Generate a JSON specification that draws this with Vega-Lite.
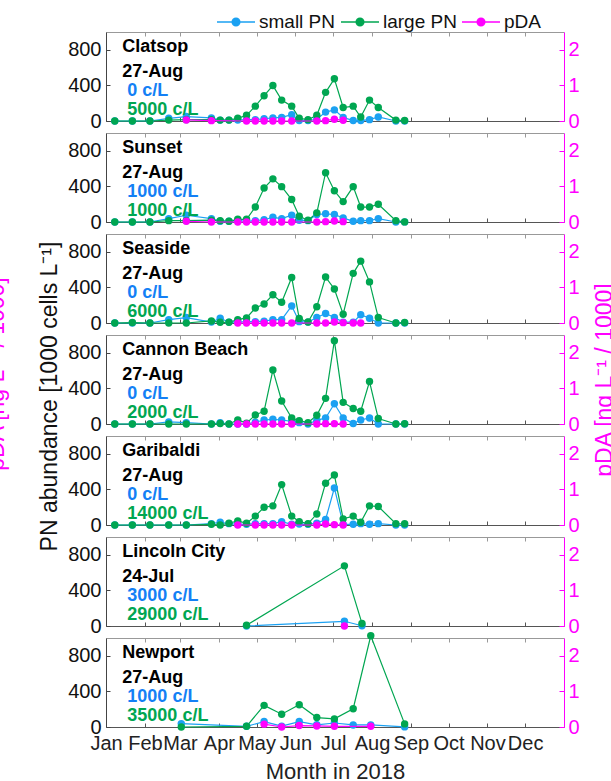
{
"$schema": "https://vega.github.io/schema/vega-lite/v6.json",
"padding": {"left": -15, "top": 2, "right": 0, "bottom": 0},
"background": "white",
"config": {"font": "Liberation Sans", "view": {"stroke": null}, "axis": {"grid": false, "labelFont": "Liberation Sans", "titleFont": "Liberation Sans"}},
"datasets": {
"pn": [
{"site":"Clatsop","date":"2018-01-08","small PN":0,"large PN":0},
{"site":"Clatsop","date":"2018-01-22","small PN":0,"large PN":0},
{"site":"Clatsop","date":"2018-02-05","small PN":0,"large PN":0},
{"site":"Clatsop","date":"2018-02-20","small PN":30,"large PN":10},
{"site":"Clatsop","date":"2018-03-06","small PN":50,"large PN":15},
{"site":"Clatsop","date":"2018-03-26","small PN":35,"large PN":15},
{"site":"Clatsop","date":"2018-04-02","small PN":10,"large PN":10},
{"site":"Clatsop","date":"2018-04-09","small PN":10,"large PN":10},
{"site":"Clatsop","date":"2018-04-16","small PN":10,"large PN":30},
{"site":"Clatsop","date":"2018-04-23","small PN":15,"large PN":64},
{"site":"Clatsop","date":"2018-04-30","small PN":15,"large PN":167},
{"site":"Clatsop","date":"2018-05-07","small PN":25,"large PN":284},
{"site":"Clatsop","date":"2018-05-14","small PN":35,"large PN":398},
{"site":"Clatsop","date":"2018-05-21","small PN":40,"large PN":235},
{"site":"Clatsop","date":"2018-05-29","small PN":70,"large PN":167},
{"site":"Clatsop","date":"2018-06-04","small PN":5,"large PN":30},
{"site":"Clatsop","date":"2018-06-11","small PN":5,"large PN":15},
{"site":"Clatsop","date":"2018-06-18","small PN":20,"large PN":64},
{"site":"Clatsop","date":"2018-06-25","small PN":100,"large PN":322},
{"site":"Clatsop","date":"2018-07-02","small PN":125,"large PN":474},
{"site":"Clatsop","date":"2018-07-09","small PN":40,"large PN":152},
{"site":"Clatsop","date":"2018-07-17","small PN":5,"large PN":167},
{"site":"Clatsop","date":"2018-07-23","small PN":5,"large PN":45},
{"site":"Clatsop","date":"2018-07-30","small PN":15,"large PN":235},
{"site":"Clatsop","date":"2018-08-06","small PN":45,"large PN":152},
{"site":"Clatsop","date":"2018-08-20","small PN":0,"large PN":10},
{"site":"Clatsop","date":"2018-08-27","small PN":0,"large PN":5},
{"site":"Sunset","date":"2018-01-08","small PN":0,"large PN":0},
{"site":"Sunset","date":"2018-01-22","small PN":0,"large PN":0},
{"site":"Sunset","date":"2018-02-05","small PN":0,"large PN":0},
{"site":"Sunset","date":"2018-02-20","small PN":38,"large PN":15},
{"site":"Sunset","date":"2018-03-06","small PN":76,"large PN":15},
{"site":"Sunset","date":"2018-03-26","small PN":38,"large PN":20},
{"site":"Sunset","date":"2018-04-02","small PN":8,"large PN":15},
{"site":"Sunset","date":"2018-04-09","small PN":8,"large PN":8},
{"site":"Sunset","date":"2018-04-16","small PN":15,"large PN":30},
{"site":"Sunset","date":"2018-04-23","small PN":8,"large PN":30},
{"site":"Sunset","date":"2018-04-30","small PN":15,"large PN":168},
{"site":"Sunset","date":"2018-05-07","small PN":25,"large PN":382},
{"site":"Sunset","date":"2018-05-14","small PN":53,"large PN":485},
{"site":"Sunset","date":"2018-05-21","small PN":38,"large PN":397},
{"site":"Sunset","date":"2018-05-29","small PN":76,"large PN":252},
{"site":"Sunset","date":"2018-06-04","small PN":20,"large PN":65},
{"site":"Sunset","date":"2018-06-11","small PN":15,"large PN":19},
{"site":"Sunset","date":"2018-06-18","small PN":84,"large PN":103},
{"site":"Sunset","date":"2018-06-25","small PN":92,"large PN":554},
{"site":"Sunset","date":"2018-07-02","small PN":84,"large PN":351},
{"site":"Sunset","date":"2018-07-09","small PN":46,"large PN":229},
{"site":"Sunset","date":"2018-07-17","small PN":8,"large PN":397},
{"site":"Sunset","date":"2018-07-23","small PN":15,"large PN":168},
{"site":"Sunset","date":"2018-07-30","small PN":15,"large PN":168},
{"site":"Sunset","date":"2018-08-06","small PN":38,"large PN":199},
{"site":"Sunset","date":"2018-08-20","small PN":0,"large PN":15},
{"site":"Sunset","date":"2018-08-27","small PN":1,"large PN":1},
{"site":"Seaside","date":"2018-01-08","small PN":0,"large PN":0},
{"site":"Seaside","date":"2018-01-22","small PN":0,"large PN":5},
{"site":"Seaside","date":"2018-02-05","small PN":0,"large PN":0},
{"site":"Seaside","date":"2018-02-20","small PN":38,"large PN":0},
{"site":"Seaside","date":"2018-03-06","small PN":61,"large PN":0},
{"site":"Seaside","date":"2018-03-26","small PN":10,"large PN":23},
{"site":"Seaside","date":"2018-04-02","small PN":53,"large PN":8},
{"site":"Seaside","date":"2018-04-09","small PN":10,"large PN":8},
{"site":"Seaside","date":"2018-04-16","small PN":10,"large PN":38},
{"site":"Seaside","date":"2018-04-23","small PN":15,"large PN":57},
{"site":"Seaside","date":"2018-04-30","small PN":15,"large PN":168},
{"site":"Seaside","date":"2018-05-07","small PN":20,"large PN":214},
{"site":"Seaside","date":"2018-05-14","small PN":38,"large PN":317},
{"site":"Seaside","date":"2018-05-21","small PN":38,"large PN":233},
{"site":"Seaside","date":"2018-05-29","small PN":191,"large PN":512},
{"site":"Seaside","date":"2018-06-04","small PN":15,"large PN":50},
{"site":"Seaside","date":"2018-06-11","small PN":10,"large PN":11},
{"site":"Seaside","date":"2018-06-18","small PN":61,"large PN":183},
{"site":"Seaside","date":"2018-06-25","small PN":107,"large PN":516},
{"site":"Seaside","date":"2018-07-02","small PN":61,"large PN":382},
{"site":"Seaside","date":"2018-07-09","small PN":10,"large PN":99},
{"site":"Seaside","date":"2018-07-17","small PN":10,"large PN":558},
{"site":"Seaside","date":"2018-07-23","small PN":92,"large PN":695},
{"site":"Seaside","date":"2018-07-30","small PN":53,"large PN":462},
{"site":"Seaside","date":"2018-08-06","small PN":0,"large PN":61},
{"site":"Seaside","date":"2018-08-20","small PN":0,"large PN":0},
{"site":"Seaside","date":"2018-08-27","small PN":0,"large PN":6},
{"site":"Cannon Beach","date":"2018-01-08","small PN":0,"large PN":0},
{"site":"Cannon Beach","date":"2018-01-22","small PN":0,"large PN":0},
{"site":"Cannon Beach","date":"2018-02-05","small PN":0,"large PN":0},
{"site":"Cannon Beach","date":"2018-02-20","small PN":23,"large PN":0},
{"site":"Cannon Beach","date":"2018-03-06","small PN":15,"large PN":0},
{"site":"Cannon Beach","date":"2018-03-26","small PN":0,"large PN":0},
{"site":"Cannon Beach","date":"2018-04-02","small PN":15,"large PN":5},
{"site":"Cannon Beach","date":"2018-04-09","small PN":0,"large PN":0},
{"site":"Cannon Beach","date":"2018-04-16","small PN":0,"large PN":45},
{"site":"Cannon Beach","date":"2018-04-23","small PN":0,"large PN":10},
{"site":"Cannon Beach","date":"2018-04-30","small PN":20,"large PN":102},
{"site":"Cannon Beach","date":"2018-05-07","small PN":45,"large PN":144},
{"site":"Cannon Beach","date":"2018-05-14","small PN":53,"large PN":606},
{"site":"Cannon Beach","date":"2018-05-21","small PN":45,"large PN":258},
{"site":"Cannon Beach","date":"2018-05-29","small PN":30,"large PN":68},
{"site":"Cannon Beach","date":"2018-06-04","small PN":15,"large PN":38},
{"site":"Cannon Beach","date":"2018-06-11","small PN":0,"large PN":15},
{"site":"Cannon Beach","date":"2018-06-18","small PN":40,"large PN":98},
{"site":"Cannon Beach","date":"2018-06-25","small PN":68,"large PN":288},
{"site":"Cannon Beach","date":"2018-07-02","small PN":227,"large PN":936},
{"site":"Cannon Beach","date":"2018-07-09","small PN":68,"large PN":243},
{"site":"Cannon Beach","date":"2018-07-17","small PN":5,"large PN":174},
{"site":"Cannon Beach","date":"2018-07-23","small PN":45,"large PN":144},
{"site":"Cannon Beach","date":"2018-07-30","small PN":68,"large PN":477},
{"site":"Cannon Beach","date":"2018-08-06","small PN":0,"large PN":61},
{"site":"Cannon Beach","date":"2018-08-20","small PN":0,"large PN":0},
{"site":"Cannon Beach","date":"2018-08-27","small PN":0,"large PN":2},
{"site":"Garibaldi","date":"2018-01-08","small PN":0,"large PN":0},
{"site":"Garibaldi","date":"2018-01-22","small PN":0,"large PN":0},
{"site":"Garibaldi","date":"2018-02-05","small PN":0,"large PN":0},
{"site":"Garibaldi","date":"2018-02-20","small PN":0,"large PN":0},
{"site":"Garibaldi","date":"2018-03-06","small PN":0,"large PN":0},
{"site":"Garibaldi","date":"2018-03-26","small PN":15,"large PN":8},
{"site":"Garibaldi","date":"2018-04-02","small PN":31,"large PN":0},
{"site":"Garibaldi","date":"2018-04-09","small PN":15,"large PN":20},
{"site":"Garibaldi","date":"2018-04-16","small PN":8,"large PN":46},
{"site":"Garibaldi","date":"2018-04-23","small PN":8,"large PN":20},
{"site":"Garibaldi","date":"2018-04-30","small PN":15,"large PN":100},
{"site":"Garibaldi","date":"2018-05-07","small PN":15,"large PN":200},
{"site":"Garibaldi","date":"2018-05-14","small PN":15,"large PN":215},
{"site":"Garibaldi","date":"2018-05-21","small PN":38,"large PN":454},
{"site":"Garibaldi","date":"2018-05-29","small PN":8,"large PN":100},
{"site":"Garibaldi","date":"2018-06-04","small PN":10,"large PN":38},
{"site":"Garibaldi","date":"2018-06-11","small PN":8,"large PN":15},
{"site":"Garibaldi","date":"2018-06-18","small PN":20,"large PN":123},
{"site":"Garibaldi","date":"2018-06-25","small PN":62,"large PN":470},
{"site":"Garibaldi","date":"2018-07-02","small PN":416,"large PN":562},
{"site":"Garibaldi","date":"2018-07-09","small PN":8,"large PN":69},
{"site":"Garibaldi","date":"2018-07-17","small PN":8,"large PN":100},
{"site":"Garibaldi","date":"2018-07-23","small PN":15,"large PN":30},
{"site":"Garibaldi","date":"2018-07-30","small PN":8,"large PN":215},
{"site":"Garibaldi","date":"2018-08-06","small PN":15,"large PN":208},
{"site":"Garibaldi","date":"2018-08-20","small PN":0,"large PN":15},
{"site":"Garibaldi","date":"2018-08-27","small PN":0,"large PN":14},
{"site":"Lincoln City","date":"2018-04-23","small PN":0,"large PN":8},
{"site":"Lincoln City","date":"2018-07-10","small PN":53,"large PN":676},
{"site":"Lincoln City","date":"2018-07-24","small PN":3,"large PN":29},
{"site":"Newport","date":"2018-03-02","small PN":38,"large PN":0},
{"site":"Newport","date":"2018-04-23","small PN":8,"large PN":8},
{"site":"Newport","date":"2018-05-07","small PN":61,"large PN":243},
{"site":"Newport","date":"2018-05-21","small PN":10,"large PN":144},
{"site":"Newport","date":"2018-06-04","small PN":61,"large PN":250},
{"site":"Newport","date":"2018-06-18","small PN":25,"large PN":106},
{"site":"Newport","date":"2018-07-02","small PN":45,"large PN":91},
{"site":"Newport","date":"2018-07-17","small PN":23,"large PN":205},
{"site":"Newport","date":"2018-07-31","small PN":23,"large PN":1025},
{"site":"Newport","date":"2018-08-27","small PN":1,"large PN":35}
],
"pda": [
{"site":"Clatsop","date":"2018-03-06","pDA":0.03},
{"site":"Clatsop","date":"2018-03-26","pDA":0.01},
{"site":"Clatsop","date":"2018-04-23","pDA":0},
{"site":"Clatsop","date":"2018-04-30","pDA":0},
{"site":"Clatsop","date":"2018-05-07","pDA":0},
{"site":"Clatsop","date":"2018-05-14","pDA":0},
{"site":"Clatsop","date":"2018-05-21","pDA":0},
{"site":"Clatsop","date":"2018-05-29","pDA":0},
{"site":"Clatsop","date":"2018-06-18","pDA":0},
{"site":"Clatsop","date":"2018-06-25","pDA":0.01},
{"site":"Clatsop","date":"2018-07-02","pDA":0.05},
{"site":"Clatsop","date":"2018-07-09","pDA":0.02},
{"site":"Sunset","date":"2018-03-06","pDA":0.02},
{"site":"Sunset","date":"2018-03-26","pDA":0},
{"site":"Sunset","date":"2018-04-16","pDA":0},
{"site":"Sunset","date":"2018-04-23","pDA":0},
{"site":"Sunset","date":"2018-04-30","pDA":0},
{"site":"Sunset","date":"2018-05-07","pDA":0},
{"site":"Sunset","date":"2018-05-14","pDA":0},
{"site":"Sunset","date":"2018-05-21","pDA":0},
{"site":"Sunset","date":"2018-05-29","pDA":0},
{"site":"Sunset","date":"2018-06-18","pDA":0},
{"site":"Sunset","date":"2018-06-25","pDA":0.01},
{"site":"Sunset","date":"2018-07-02","pDA":0.03},
{"site":"Sunset","date":"2018-07-09","pDA":0.01},
{"site":"Seaside","date":"2018-04-16","pDA":0},
{"site":"Seaside","date":"2018-04-23","pDA":0},
{"site":"Seaside","date":"2018-04-30","pDA":0},
{"site":"Seaside","date":"2018-05-07","pDA":0},
{"site":"Seaside","date":"2018-05-14","pDA":0},
{"site":"Seaside","date":"2018-05-21","pDA":0},
{"site":"Seaside","date":"2018-05-29","pDA":0},
{"site":"Seaside","date":"2018-06-18","pDA":0},
{"site":"Seaside","date":"2018-06-25","pDA":0},
{"site":"Seaside","date":"2018-07-02","pDA":0.03},
{"site":"Seaside","date":"2018-07-09","pDA":0.01},
{"site":"Seaside","date":"2018-07-17","pDA":0},
{"site":"Seaside","date":"2018-07-23","pDA":0},
{"site":"Cannon Beach","date":"2018-04-16","pDA":0},
{"site":"Cannon Beach","date":"2018-04-23","pDA":0},
{"site":"Cannon Beach","date":"2018-04-30","pDA":0},
{"site":"Cannon Beach","date":"2018-05-07","pDA":0},
{"site":"Cannon Beach","date":"2018-05-14","pDA":0},
{"site":"Cannon Beach","date":"2018-05-21","pDA":0},
{"site":"Cannon Beach","date":"2018-05-29","pDA":0},
{"site":"Cannon Beach","date":"2018-06-18","pDA":0},
{"site":"Cannon Beach","date":"2018-06-25","pDA":0.01},
{"site":"Cannon Beach","date":"2018-07-02","pDA":0.01},
{"site":"Cannon Beach","date":"2018-07-09","pDA":0},
{"site":"Garibaldi","date":"2018-04-16","pDA":0},
{"site":"Garibaldi","date":"2018-04-30","pDA":0},
{"site":"Garibaldi","date":"2018-05-07","pDA":0},
{"site":"Garibaldi","date":"2018-05-14","pDA":0},
{"site":"Garibaldi","date":"2018-05-21","pDA":0},
{"site":"Garibaldi","date":"2018-05-29","pDA":0},
{"site":"Garibaldi","date":"2018-06-18","pDA":0},
{"site":"Garibaldi","date":"2018-06-25","pDA":0.03},
{"site":"Garibaldi","date":"2018-07-02","pDA":0.01},
{"site":"Garibaldi","date":"2018-07-09","pDA":0},
{"site":"Lincoln City","date":"2018-07-10","pDA":0},
{"site":"Newport","date":"2018-05-07","pDA":0.08},
{"site":"Newport","date":"2018-05-21","pDA":0},
{"site":"Newport","date":"2018-06-04","pDA":0.04},
{"site":"Newport","date":"2018-06-18","pDA":0.03},
{"site":"Newport","date":"2018-07-02","pDA":0.02},
{"site":"Newport","date":"2018-07-31","pDA":0.02}
],
"labels": [
{"site":"Clatsop","when":"27-Aug","small":"0 c/L","large":"5000 c/L"},
{"site":"Sunset","when":"27-Aug","small":"1000 c/L","large":"1000 c/L"},
{"site":"Seaside","when":"27-Aug","small":"0 c/L","large":"6000 c/L"},
{"site":"Cannon Beach","when":"27-Aug","small":"0 c/L","large":"2000 c/L"},
{"site":"Garibaldi","when":"27-Aug","small":"0 c/L","large":"14000 c/L"},
{"site":"Lincoln City","when":"24-Jul","small":"3000 c/L","large":"29000 c/L"},
{"site":"Newport","when":"27-Aug","small":"1000 c/L","large":"35000 c/L"}
],
"ghost": [
{"site":"Cannon Beach","text":"pDA [ng L⁻¹ / 1000]"}
]
},
"spacing": 12,
"bounds": "flush",
"vconcat": [
{"width":458,"height":89,"resolve":{"scale":{"y":"independent"},"axis":{"x":"independent","y":"independent"}},
"layer":[
{"layer":[
{"data":{"name":"pn"},"transform":[{"filter":"datum.site==='Clatsop'"},{"fold":["small PN","large PN"],"as":["series","value"]}],
"mark":{"type":"line","strokeWidth":1.2,"clip":false},
"encoding":{"x":{"field":"date","type":"temporal","scale":{"type":"utc","domain":[1514764800000,1546300800000]},"axis":{"title":null,"labels":false,"values":[1514764800000,1516060800000,1517443200000,1518739200000,1519862400000,1521158400000,1522540800000,1523836800000,1525132800000,1526428800000,1527811200000,1529107200000,1530403200000,1531699200000,1533081600000,1534377600000,1535760000000,1537056000000,1538352000000,1539648000000,1541030400000,1542326400000,1543622400000,1544918400000],"tickSize":-4,"tickColor":"#555","domainColor":"#555"}},
"y":{"field":"value","type":"quantitative","scale":{"domain":[0,1000],"nice":false},"axis":{"title":null,"values":[0,400,800],"labelFontSize":20,"labelColor":"#111","tickSize":-4,"tickColor":"#444","domainColor":"#444","labelPadding":9}},
"color":{"field":"series","type":"nominal","scale":{"domain":["small PN","large PN","pDA"],"range":["#1ba1f2","#00a651","#ff00ff"]},"legend":{"title":null,"orient":"none","legendX":110,"legendY":-30,"direction":"horizontal","labelFontSize":19,"labelColor":"#111","symbolSize":1444,"symbolType":"M-1,0L1,0M-0.2,0A0.2,0.2,0,1,0,0.2,0A0.2,0.2,0,1,0,-0.2,0Z","symbolStrokeWidth":1.5,"labelOffset":3,"columnPadding":2,"padding":0,"encode":{"symbols":{"update":{"fill":{"scale":"color","field":"value"},"stroke":{"scale":"color","field":"value"},"opacity":{"value":1}}}}}}}},
{"data":{"name":"pn"},"transform":[{"filter":"datum.site==='Clatsop'"},{"fold":["small PN","large PN"],"as":["series","value"]}],
"mark":{"type":"point","filled":true,"size":55,"opacity":1,"clip":false},
"encoding":{"x":{"field":"date","type":"temporal"},"y":{"field":"value","type":"quantitative"},"color":{"field":"series","type":"nominal"}}},
{"data":{"name":"labels"},"transform":[{"filter":"datum.site==='Clatsop'"}],"mark":{"type":"text","align":"left","baseline":"middle","fontSize":18,"fontWeight":"bold","color":"#000"},
"encoding":{"x":{"datum":1515888000000,"type":"temporal"},"y":{"datum":837,"type":"quantitative"},"text":{"field":"site"}}},
{"data":{"name":"labels"},"transform":[{"filter":"datum.site==='Clatsop'"}],"mark":{"type":"text","align":"left","baseline":"middle","fontSize":18,"fontWeight":"bold","color":"#000"},
"encoding":{"x":{"datum":1515888000000,"type":"temporal"},"y":{"datum":556,"type":"quantitative"},"text":{"field":"when"}}},
{"data":{"name":"labels"},"transform":[{"filter":"datum.site==='Clatsop'"}],"mark":{"type":"text","align":"left","baseline":"middle","fontSize":18,"fontWeight":"bold","color":"#1380f5"},
"encoding":{"x":{"datum":1516233600000,"type":"temporal"},"y":{"datum":342,"type":"quantitative"},"text":{"field":"small"}}},
{"data":{"name":"labels"},"transform":[{"filter":"datum.site==='Clatsop'"}],"mark":{"type":"text","align":"left","baseline":"middle","fontSize":18,"fontWeight":"bold","color":"#00a651"},
"encoding":{"x":{"datum":1516233600000,"type":"temporal"},"y":{"datum":129,"type":"quantitative"},"text":{"field":"large"}}}
]},
{"layer":[
{"data":{"name":"pda"},"transform":[{"filter":"datum.site==='Clatsop'"},{"fold":["pDA"],"as":["series","value"]}],
"mark":{"type":"line","strokeWidth":1.2},
"encoding":{"x":{"field":"date","type":"temporal","scale":{"type":"utc","domain":[1514764800000,1546300800000]},"axis":{"orient":"top","title":null,"labels":false,"values":[1514764800000,1516060800000,1517443200000,1518739200000,1519862400000,1521158400000,1522540800000,1523836800000,1525132800000,1526428800000,1527811200000,1529107200000,1530403200000,1531699200000,1533081600000,1534377600000,1535760000000,1537056000000,1538352000000,1539648000000,1541030400000,1542326400000,1543622400000,1544918400000],"tickSize":-4,"tickColor":"#999","domainColor":"#999"}},
"y":{"field":"value","type":"quantitative","scale":{"domain":[0,2.5],"nice":false},"axis":{"orient":"right","title":null,"values":[0,1,2],"labelFontSize":20,"labelColor":"#ff00ff","tickColor":"#ff00ff","domainColor":"#ff00ff","tickSize":-5,"labelPadding":9}},
"color":{"field":"series","type":"nominal"}}},
{"data":{"name":"pda"},"transform":[{"filter":"datum.site==='Clatsop'"},{"fold":["pDA"],"as":["series","value"]}],
"mark":{"type":"point","filled":true,"size":55,"opacity":1},
"encoding":{"x":{"field":"date","type":"temporal"},"y":{"field":"value","type":"quantitative"},"color":{"field":"series","type":"nominal"}}}
]}
]},
{"width":458,"height":89,"resolve":{"scale":{"y":"independent"},"axis":{"x":"independent","y":"independent"}},
"layer":[
{"layer":[
{"data":{"name":"pn"},"transform":[{"filter":"datum.site==='Sunset'"},{"fold":["small PN","large PN"],"as":["series","value"]}],
"mark":{"type":"line","strokeWidth":1.2,"clip":false},
"encoding":{"x":{"field":"date","type":"temporal","scale":{"type":"utc","domain":[1514764800000,1546300800000]},"axis":{"title":null,"labels":false,"values":[1514764800000,1516060800000,1517443200000,1518739200000,1519862400000,1521158400000,1522540800000,1523836800000,1525132800000,1526428800000,1527811200000,1529107200000,1530403200000,1531699200000,1533081600000,1534377600000,1535760000000,1537056000000,1538352000000,1539648000000,1541030400000,1542326400000,1543622400000,1544918400000],"tickSize":-4,"tickColor":"#555","domainColor":"#555"}},
"y":{"field":"value","type":"quantitative","scale":{"domain":[0,1000],"nice":false},"axis":{"title":null,"values":[0,400,800],"labelFontSize":20,"labelColor":"#111","tickSize":-4,"tickColor":"#444","domainColor":"#444","labelPadding":9}},
"color":{"field":"series","type":"nominal"}}},
{"data":{"name":"pn"},"transform":[{"filter":"datum.site==='Sunset'"},{"fold":["small PN","large PN"],"as":["series","value"]}],
"mark":{"type":"point","filled":true,"size":55,"opacity":1,"clip":false},
"encoding":{"x":{"field":"date","type":"temporal"},"y":{"field":"value","type":"quantitative"},"color":{"field":"series","type":"nominal"}}},
{"data":{"name":"labels"},"transform":[{"filter":"datum.site==='Sunset'"}],"mark":{"type":"text","align":"left","baseline":"middle","fontSize":18,"fontWeight":"bold","color":"#000"},
"encoding":{"x":{"datum":1515888000000,"type":"temporal"},"y":{"datum":837,"type":"quantitative"},"text":{"field":"site"}}},
{"data":{"name":"labels"},"transform":[{"filter":"datum.site==='Sunset'"}],"mark":{"type":"text","align":"left","baseline":"middle","fontSize":18,"fontWeight":"bold","color":"#000"},
"encoding":{"x":{"datum":1515888000000,"type":"temporal"},"y":{"datum":556,"type":"quantitative"},"text":{"field":"when"}}},
{"data":{"name":"labels"},"transform":[{"filter":"datum.site==='Sunset'"}],"mark":{"type":"text","align":"left","baseline":"middle","fontSize":18,"fontWeight":"bold","color":"#1380f5"},
"encoding":{"x":{"datum":1516233600000,"type":"temporal"},"y":{"datum":342,"type":"quantitative"},"text":{"field":"small"}}},
{"data":{"name":"labels"},"transform":[{"filter":"datum.site==='Sunset'"}],"mark":{"type":"text","align":"left","baseline":"middle","fontSize":18,"fontWeight":"bold","color":"#00a651"},
"encoding":{"x":{"datum":1516233600000,"type":"temporal"},"y":{"datum":129,"type":"quantitative"},"text":{"field":"large"}}}
]},
{"layer":[
{"data":{"name":"pda"},"transform":[{"filter":"datum.site==='Sunset'"},{"fold":["pDA"],"as":["series","value"]}],
"mark":{"type":"line","strokeWidth":1.2},
"encoding":{"x":{"field":"date","type":"temporal","scale":{"type":"utc","domain":[1514764800000,1546300800000]},"axis":{"orient":"top","title":null,"labels":false,"values":[1514764800000,1516060800000,1517443200000,1518739200000,1519862400000,1521158400000,1522540800000,1523836800000,1525132800000,1526428800000,1527811200000,1529107200000,1530403200000,1531699200000,1533081600000,1534377600000,1535760000000,1537056000000,1538352000000,1539648000000,1541030400000,1542326400000,1543622400000,1544918400000],"tickSize":-4,"tickColor":"#999","domainColor":"#999"}},
"y":{"field":"value","type":"quantitative","scale":{"domain":[0,2.5],"nice":false},"axis":{"orient":"right","title":null,"values":[0,1,2],"labelFontSize":20,"labelColor":"#ff00ff","tickColor":"#ff00ff","domainColor":"#ff00ff","tickSize":-5,"labelPadding":9}},
"color":{"field":"series","type":"nominal"}}},
{"data":{"name":"pda"},"transform":[{"filter":"datum.site==='Sunset'"},{"fold":["pDA"],"as":["series","value"]}],
"mark":{"type":"point","filled":true,"size":55,"opacity":1},
"encoding":{"x":{"field":"date","type":"temporal"},"y":{"field":"value","type":"quantitative"},"color":{"field":"series","type":"nominal"}}}
]}
]},
{"width":458,"height":89,"resolve":{"scale":{"y":"independent"},"axis":{"x":"independent","y":"independent"}},
"layer":[
{"layer":[
{"data":{"name":"pn"},"transform":[{"filter":"datum.site==='Seaside'"},{"fold":["small PN","large PN"],"as":["series","value"]}],
"mark":{"type":"line","strokeWidth":1.2,"clip":false},
"encoding":{"x":{"field":"date","type":"temporal","scale":{"type":"utc","domain":[1514764800000,1546300800000]},"axis":{"title":null,"labels":false,"values":[1514764800000,1516060800000,1517443200000,1518739200000,1519862400000,1521158400000,1522540800000,1523836800000,1525132800000,1526428800000,1527811200000,1529107200000,1530403200000,1531699200000,1533081600000,1534377600000,1535760000000,1537056000000,1538352000000,1539648000000,1541030400000,1542326400000,1543622400000,1544918400000],"tickSize":-4,"tickColor":"#555","domainColor":"#555"}},
"y":{"field":"value","type":"quantitative","scale":{"domain":[0,1000],"nice":false},"axis":{"title":null,"values":[0,400,800],"labelFontSize":20,"labelColor":"#111","tickSize":-4,"tickColor":"#444","domainColor":"#444","labelPadding":9}},
"color":{"field":"series","type":"nominal"}}},
{"data":{"name":"pn"},"transform":[{"filter":"datum.site==='Seaside'"},{"fold":["small PN","large PN"],"as":["series","value"]}],
"mark":{"type":"point","filled":true,"size":55,"opacity":1,"clip":false},
"encoding":{"x":{"field":"date","type":"temporal"},"y":{"field":"value","type":"quantitative"},"color":{"field":"series","type":"nominal"}}},
{"data":{"name":"labels"},"transform":[{"filter":"datum.site==='Seaside'"}],"mark":{"type":"text","align":"left","baseline":"middle","fontSize":18,"fontWeight":"bold","color":"#000"},
"encoding":{"x":{"datum":1515888000000,"type":"temporal"},"y":{"datum":837,"type":"quantitative"},"text":{"field":"site"}}},
{"data":{"name":"labels"},"transform":[{"filter":"datum.site==='Seaside'"}],"mark":{"type":"text","align":"left","baseline":"middle","fontSize":18,"fontWeight":"bold","color":"#000"},
"encoding":{"x":{"datum":1515888000000,"type":"temporal"},"y":{"datum":556,"type":"quantitative"},"text":{"field":"when"}}},
{"data":{"name":"labels"},"transform":[{"filter":"datum.site==='Seaside'"}],"mark":{"type":"text","align":"left","baseline":"middle","fontSize":18,"fontWeight":"bold","color":"#1380f5"},
"encoding":{"x":{"datum":1516233600000,"type":"temporal"},"y":{"datum":342,"type":"quantitative"},"text":{"field":"small"}}},
{"data":{"name":"labels"},"transform":[{"filter":"datum.site==='Seaside'"}],"mark":{"type":"text","align":"left","baseline":"middle","fontSize":18,"fontWeight":"bold","color":"#00a651"},
"encoding":{"x":{"datum":1516233600000,"type":"temporal"},"y":{"datum":129,"type":"quantitative"},"text":{"field":"large"}}}
]},
{"layer":[
{"data":{"name":"pda"},"transform":[{"filter":"datum.site==='Seaside'"},{"fold":["pDA"],"as":["series","value"]}],
"mark":{"type":"line","strokeWidth":1.2},
"encoding":{"x":{"field":"date","type":"temporal","scale":{"type":"utc","domain":[1514764800000,1546300800000]},"axis":{"orient":"top","title":null,"labels":false,"values":[1514764800000,1516060800000,1517443200000,1518739200000,1519862400000,1521158400000,1522540800000,1523836800000,1525132800000,1526428800000,1527811200000,1529107200000,1530403200000,1531699200000,1533081600000,1534377600000,1535760000000,1537056000000,1538352000000,1539648000000,1541030400000,1542326400000,1543622400000,1544918400000],"tickSize":-4,"tickColor":"#999","domainColor":"#999"}},
"y":{"field":"value","type":"quantitative","scale":{"domain":[0,2.5],"nice":false},"axis":{"orient":"right","title":null,"values":[0,1,2],"labelFontSize":20,"labelColor":"#ff00ff","tickColor":"#ff00ff","domainColor":"#ff00ff","tickSize":-5,"labelPadding":9}},
"color":{"field":"series","type":"nominal"}}},
{"data":{"name":"pda"},"transform":[{"filter":"datum.site==='Seaside'"},{"fold":["pDA"],"as":["series","value"]}],
"mark":{"type":"point","filled":true,"size":55,"opacity":1},
"encoding":{"x":{"field":"date","type":"temporal"},"y":{"field":"value","type":"quantitative"},"color":{"field":"series","type":"nominal"}}}
]}
]},
{"width":458,"height":89,"resolve":{"scale":{"y":"independent"},"axis":{"x":"independent","y":"independent"}},
"layer":[
{"layer":[
{"data":{"name":"pn"},"transform":[{"filter":"datum.site==='Cannon Beach'"},{"fold":["small PN","large PN"],"as":["series","value"]}],
"mark":{"type":"line","strokeWidth":1.2,"clip":false},
"encoding":{"x":{"field":"date","type":"temporal","scale":{"type":"utc","domain":[1514764800000,1546300800000]},"axis":{"title":null,"labels":false,"values":[1514764800000,1516060800000,1517443200000,1518739200000,1519862400000,1521158400000,1522540800000,1523836800000,1525132800000,1526428800000,1527811200000,1529107200000,1530403200000,1531699200000,1533081600000,1534377600000,1535760000000,1537056000000,1538352000000,1539648000000,1541030400000,1542326400000,1543622400000,1544918400000],"tickSize":-4,"tickColor":"#555","domainColor":"#555"}},
"y":{"field":"value","type":"quantitative","scale":{"domain":[0,1000],"nice":false},"axis":{"title":"PN abundance [1000 cells L⁻¹]","titleFontSize":23,"titleFontWeight":"normal","titleColor":"#111","titlePadding":6,"titleY":61,"values":[0,400,800],"labelFontSize":20,"labelColor":"#111","tickSize":-4,"tickColor":"#444","domainColor":"#444","labelPadding":9}},
"color":{"field":"series","type":"nominal"}}},
{"data":{"name":"pn"},"transform":[{"filter":"datum.site==='Cannon Beach'"},{"fold":["small PN","large PN"],"as":["series","value"]}],
"mark":{"type":"point","filled":true,"size":55,"opacity":1,"clip":false},
"encoding":{"x":{"field":"date","type":"temporal"},"y":{"field":"value","type":"quantitative"},"color":{"field":"series","type":"nominal"}}},
{"data":{"name":"ghost"},"mark":{"type":"text","align":"center","baseline":"middle","angle":270,"fontSize":23,"color":"#ff00ff","clip":false},
"encoding":{"x":{"datum":1507248000000,"type":"temporal"},"y":{"datum":562,"type":"quantitative"},"text":{"field":"text"}}},
{"data":{"name":"labels"},"transform":[{"filter":"datum.site==='Cannon Beach'"}],"mark":{"type":"text","align":"left","baseline":"middle","fontSize":18,"fontWeight":"bold","color":"#000"},
"encoding":{"x":{"datum":1515888000000,"type":"temporal"},"y":{"datum":837,"type":"quantitative"},"text":{"field":"site"}}},
{"data":{"name":"labels"},"transform":[{"filter":"datum.site==='Cannon Beach'"}],"mark":{"type":"text","align":"left","baseline":"middle","fontSize":18,"fontWeight":"bold","color":"#000"},
"encoding":{"x":{"datum":1515888000000,"type":"temporal"},"y":{"datum":556,"type":"quantitative"},"text":{"field":"when"}}},
{"data":{"name":"labels"},"transform":[{"filter":"datum.site==='Cannon Beach'"}],"mark":{"type":"text","align":"left","baseline":"middle","fontSize":18,"fontWeight":"bold","color":"#1380f5"},
"encoding":{"x":{"datum":1516233600000,"type":"temporal"},"y":{"datum":342,"type":"quantitative"},"text":{"field":"small"}}},
{"data":{"name":"labels"},"transform":[{"filter":"datum.site==='Cannon Beach'"}],"mark":{"type":"text","align":"left","baseline":"middle","fontSize":18,"fontWeight":"bold","color":"#00a651"},
"encoding":{"x":{"datum":1516233600000,"type":"temporal"},"y":{"datum":129,"type":"quantitative"},"text":{"field":"large"}}}
]},
{"layer":[
{"data":{"name":"pda"},"transform":[{"filter":"datum.site==='Cannon Beach'"},{"fold":["pDA"],"as":["series","value"]}],
"mark":{"type":"line","strokeWidth":1.2},
"encoding":{"x":{"field":"date","type":"temporal","scale":{"type":"utc","domain":[1514764800000,1546300800000]},"axis":{"orient":"top","title":null,"labels":false,"values":[1514764800000,1516060800000,1517443200000,1518739200000,1519862400000,1521158400000,1522540800000,1523836800000,1525132800000,1526428800000,1527811200000,1529107200000,1530403200000,1531699200000,1533081600000,1534377600000,1535760000000,1537056000000,1538352000000,1539648000000,1541030400000,1542326400000,1543622400000,1544918400000],"tickSize":-4,"tickColor":"#999","domainColor":"#999"}},
"y":{"field":"value","type":"quantitative","scale":{"domain":[0,2.5],"nice":false},"axis":{"orient":"right","title":"pDA [ng L⁻¹ / 1000]","titleAngle":270,"titleBaseline":"top","titleFontSize":23,"titleFontWeight":"normal","titleColor":"#ff00ff","titlePadding":14,"values":[0,1,2],"labelFontSize":20,"labelColor":"#ff00ff","tickColor":"#ff00ff","domainColor":"#ff00ff","tickSize":-5,"labelPadding":9}},
"color":{"field":"series","type":"nominal"}}},
{"data":{"name":"pda"},"transform":[{"filter":"datum.site==='Cannon Beach'"},{"fold":["pDA"],"as":["series","value"]}],
"mark":{"type":"point","filled":true,"size":55,"opacity":1},
"encoding":{"x":{"field":"date","type":"temporal"},"y":{"field":"value","type":"quantitative"},"color":{"field":"series","type":"nominal"}}}
]}
]},
{"width":458,"height":89,"resolve":{"scale":{"y":"independent"},"axis":{"x":"independent","y":"independent"}},
"layer":[
{"layer":[
{"data":{"name":"pn"},"transform":[{"filter":"datum.site==='Garibaldi'"},{"fold":["small PN","large PN"],"as":["series","value"]}],
"mark":{"type":"line","strokeWidth":1.2,"clip":false},
"encoding":{"x":{"field":"date","type":"temporal","scale":{"type":"utc","domain":[1514764800000,1546300800000]},"axis":{"title":null,"labels":false,"values":[1514764800000,1516060800000,1517443200000,1518739200000,1519862400000,1521158400000,1522540800000,1523836800000,1525132800000,1526428800000,1527811200000,1529107200000,1530403200000,1531699200000,1533081600000,1534377600000,1535760000000,1537056000000,1538352000000,1539648000000,1541030400000,1542326400000,1543622400000,1544918400000],"tickSize":-4,"tickColor":"#555","domainColor":"#555"}},
"y":{"field":"value","type":"quantitative","scale":{"domain":[0,1000],"nice":false},"axis":{"title":null,"values":[0,400,800],"labelFontSize":20,"labelColor":"#111","tickSize":-4,"tickColor":"#444","domainColor":"#444","labelPadding":9}},
"color":{"field":"series","type":"nominal"}}},
{"data":{"name":"pn"},"transform":[{"filter":"datum.site==='Garibaldi'"},{"fold":["small PN","large PN"],"as":["series","value"]}],
"mark":{"type":"point","filled":true,"size":55,"opacity":1,"clip":false},
"encoding":{"x":{"field":"date","type":"temporal"},"y":{"field":"value","type":"quantitative"},"color":{"field":"series","type":"nominal"}}},
{"data":{"name":"labels"},"transform":[{"filter":"datum.site==='Garibaldi'"}],"mark":{"type":"text","align":"left","baseline":"middle","fontSize":18,"fontWeight":"bold","color":"#000"},
"encoding":{"x":{"datum":1515888000000,"type":"temporal"},"y":{"datum":837,"type":"quantitative"},"text":{"field":"site"}}},
{"data":{"name":"labels"},"transform":[{"filter":"datum.site==='Garibaldi'"}],"mark":{"type":"text","align":"left","baseline":"middle","fontSize":18,"fontWeight":"bold","color":"#000"},
"encoding":{"x":{"datum":1515888000000,"type":"temporal"},"y":{"datum":556,"type":"quantitative"},"text":{"field":"when"}}},
{"data":{"name":"labels"},"transform":[{"filter":"datum.site==='Garibaldi'"}],"mark":{"type":"text","align":"left","baseline":"middle","fontSize":18,"fontWeight":"bold","color":"#1380f5"},
"encoding":{"x":{"datum":1516233600000,"type":"temporal"},"y":{"datum":342,"type":"quantitative"},"text":{"field":"small"}}},
{"data":{"name":"labels"},"transform":[{"filter":"datum.site==='Garibaldi'"}],"mark":{"type":"text","align":"left","baseline":"middle","fontSize":18,"fontWeight":"bold","color":"#00a651"},
"encoding":{"x":{"datum":1516233600000,"type":"temporal"},"y":{"datum":129,"type":"quantitative"},"text":{"field":"large"}}}
]},
{"layer":[
{"data":{"name":"pda"},"transform":[{"filter":"datum.site==='Garibaldi'"},{"fold":["pDA"],"as":["series","value"]}],
"mark":{"type":"line","strokeWidth":1.2},
"encoding":{"x":{"field":"date","type":"temporal","scale":{"type":"utc","domain":[1514764800000,1546300800000]},"axis":{"orient":"top","title":null,"labels":false,"values":[1514764800000,1516060800000,1517443200000,1518739200000,1519862400000,1521158400000,1522540800000,1523836800000,1525132800000,1526428800000,1527811200000,1529107200000,1530403200000,1531699200000,1533081600000,1534377600000,1535760000000,1537056000000,1538352000000,1539648000000,1541030400000,1542326400000,1543622400000,1544918400000],"tickSize":-4,"tickColor":"#999","domainColor":"#999"}},
"y":{"field":"value","type":"quantitative","scale":{"domain":[0,2.5],"nice":false},"axis":{"orient":"right","title":null,"values":[0,1,2],"labelFontSize":20,"labelColor":"#ff00ff","tickColor":"#ff00ff","domainColor":"#ff00ff","tickSize":-5,"labelPadding":9}},
"color":{"field":"series","type":"nominal"}}},
{"data":{"name":"pda"},"transform":[{"filter":"datum.site==='Garibaldi'"},{"fold":["pDA"],"as":["series","value"]}],
"mark":{"type":"point","filled":true,"size":55,"opacity":1},
"encoding":{"x":{"field":"date","type":"temporal"},"y":{"field":"value","type":"quantitative"},"color":{"field":"series","type":"nominal"}}}
]}
]},
{"width":458,"height":89,"resolve":{"scale":{"y":"independent"},"axis":{"x":"independent","y":"independent"}},
"layer":[
{"layer":[
{"data":{"name":"pn"},"transform":[{"filter":"datum.site==='Lincoln City'"},{"fold":["small PN","large PN"],"as":["series","value"]}],
"mark":{"type":"line","strokeWidth":1.2,"clip":false},
"encoding":{"x":{"field":"date","type":"temporal","scale":{"type":"utc","domain":[1514764800000,1546300800000]},"axis":{"title":null,"labels":false,"values":[1514764800000,1516060800000,1517443200000,1518739200000,1519862400000,1521158400000,1522540800000,1523836800000,1525132800000,1526428800000,1527811200000,1529107200000,1530403200000,1531699200000,1533081600000,1534377600000,1535760000000,1537056000000,1538352000000,1539648000000,1541030400000,1542326400000,1543622400000,1544918400000],"tickSize":-4,"tickColor":"#555","domainColor":"#555"}},
"y":{"field":"value","type":"quantitative","scale":{"domain":[0,1000],"nice":false},"axis":{"title":null,"values":[0,400,800],"labelFontSize":20,"labelColor":"#111","tickSize":-4,"tickColor":"#444","domainColor":"#444","labelPadding":9}},
"color":{"field":"series","type":"nominal"}}},
{"data":{"name":"pn"},"transform":[{"filter":"datum.site==='Lincoln City'"},{"fold":["small PN","large PN"],"as":["series","value"]}],
"mark":{"type":"point","filled":true,"size":55,"opacity":1,"clip":false},
"encoding":{"x":{"field":"date","type":"temporal"},"y":{"field":"value","type":"quantitative"},"color":{"field":"series","type":"nominal"}}},
{"data":{"name":"labels"},"transform":[{"filter":"datum.site==='Lincoln City'"}],"mark":{"type":"text","align":"left","baseline":"middle","fontSize":18,"fontWeight":"bold","color":"#000"},
"encoding":{"x":{"datum":1515888000000,"type":"temporal"},"y":{"datum":837,"type":"quantitative"},"text":{"field":"site"}}},
{"data":{"name":"labels"},"transform":[{"filter":"datum.site==='Lincoln City'"}],"mark":{"type":"text","align":"left","baseline":"middle","fontSize":18,"fontWeight":"bold","color":"#000"},
"encoding":{"x":{"datum":1515888000000,"type":"temporal"},"y":{"datum":556,"type":"quantitative"},"text":{"field":"when"}}},
{"data":{"name":"labels"},"transform":[{"filter":"datum.site==='Lincoln City'"}],"mark":{"type":"text","align":"left","baseline":"middle","fontSize":18,"fontWeight":"bold","color":"#1380f5"},
"encoding":{"x":{"datum":1516233600000,"type":"temporal"},"y":{"datum":342,"type":"quantitative"},"text":{"field":"small"}}},
{"data":{"name":"labels"},"transform":[{"filter":"datum.site==='Lincoln City'"}],"mark":{"type":"text","align":"left","baseline":"middle","fontSize":18,"fontWeight":"bold","color":"#00a651"},
"encoding":{"x":{"datum":1516233600000,"type":"temporal"},"y":{"datum":129,"type":"quantitative"},"text":{"field":"large"}}}
]},
{"layer":[
{"data":{"name":"pda"},"transform":[{"filter":"datum.site==='Lincoln City'"},{"fold":["pDA"],"as":["series","value"]}],
"mark":{"type":"line","strokeWidth":1.2},
"encoding":{"x":{"field":"date","type":"temporal","scale":{"type":"utc","domain":[1514764800000,1546300800000]},"axis":{"orient":"top","title":null,"labels":false,"values":[1514764800000,1516060800000,1517443200000,1518739200000,1519862400000,1521158400000,1522540800000,1523836800000,1525132800000,1526428800000,1527811200000,1529107200000,1530403200000,1531699200000,1533081600000,1534377600000,1535760000000,1537056000000,1538352000000,1539648000000,1541030400000,1542326400000,1543622400000,1544918400000],"tickSize":-4,"tickColor":"#999","domainColor":"#999"}},
"y":{"field":"value","type":"quantitative","scale":{"domain":[0,2.5],"nice":false},"axis":{"orient":"right","title":null,"values":[0,1,2],"labelFontSize":20,"labelColor":"#ff00ff","tickColor":"#ff00ff","domainColor":"#ff00ff","tickSize":-5,"labelPadding":9}},
"color":{"field":"series","type":"nominal"}}},
{"data":{"name":"pda"},"transform":[{"filter":"datum.site==='Lincoln City'"},{"fold":["pDA"],"as":["series","value"]}],
"mark":{"type":"point","filled":true,"size":55,"opacity":1},
"encoding":{"x":{"field":"date","type":"temporal"},"y":{"field":"value","type":"quantitative"},"color":{"field":"series","type":"nominal"}}}
]}
]},
{"width":458,"height":89,"resolve":{"scale":{"y":"independent"},"axis":{"x":"independent","y":"independent"}},
"layer":[
{"layer":[
{"data":{"name":"pn"},"transform":[{"filter":"datum.site==='Newport'"},{"fold":["small PN","large PN"],"as":["series","value"]}],
"mark":{"type":"line","strokeWidth":1.2,"clip":false},
"encoding":{"x":{"field":"date","type":"temporal","scale":{"type":"utc","domain":[1514764800000,1546300800000]},"axis":{"title":"Month in 2018","titleFontSize":22,"titleFontWeight":"normal","titleColor":"#222","titlePadding":8,"labels":true,"labelExpr":"utcdate(datum.value) === 1 ? utcFormat(datum.value, '%b') : ''","labelOverlap":false,"labelFlush":false,"labelBound":false,"labelFontSize":20,"labelColor":"#222","labelPadding":10,"values":[1514764800000,1516060800000,1517443200000,1518739200000,1519862400000,1521158400000,1522540800000,1523836800000,1525132800000,1526428800000,1527811200000,1529107200000,1530403200000,1531699200000,1533081600000,1534377600000,1535760000000,1537056000000,1538352000000,1539648000000,1541030400000,1542326400000,1543622400000,1544918400000],"tickSize":-4,"tickColor":"#555","domainColor":"#555"}},
"y":{"field":"value","type":"quantitative","scale":{"domain":[0,1000],"nice":false},"axis":{"title":null,"values":[0,400,800],"labelFontSize":20,"labelColor":"#111","tickSize":-4,"tickColor":"#444","domainColor":"#444","labelPadding":9}},
"color":{"field":"series","type":"nominal"}}},
{"data":{"name":"pn"},"transform":[{"filter":"datum.site==='Newport'"},{"fold":["small PN","large PN"],"as":["series","value"]}],
"mark":{"type":"point","filled":true,"size":55,"opacity":1,"clip":false},
"encoding":{"x":{"field":"date","type":"temporal"},"y":{"field":"value","type":"quantitative"},"color":{"field":"series","type":"nominal"}}},
{"data":{"name":"labels"},"transform":[{"filter":"datum.site==='Newport'"}],"mark":{"type":"text","align":"left","baseline":"middle","fontSize":18,"fontWeight":"bold","color":"#000"},
"encoding":{"x":{"datum":1515888000000,"type":"temporal"},"y":{"datum":837,"type":"quantitative"},"text":{"field":"site"}}},
{"data":{"name":"labels"},"transform":[{"filter":"datum.site==='Newport'"}],"mark":{"type":"text","align":"left","baseline":"middle","fontSize":18,"fontWeight":"bold","color":"#000"},
"encoding":{"x":{"datum":1515888000000,"type":"temporal"},"y":{"datum":556,"type":"quantitative"},"text":{"field":"when"}}},
{"data":{"name":"labels"},"transform":[{"filter":"datum.site==='Newport'"}],"mark":{"type":"text","align":"left","baseline":"middle","fontSize":18,"fontWeight":"bold","color":"#1380f5"},
"encoding":{"x":{"datum":1516233600000,"type":"temporal"},"y":{"datum":342,"type":"quantitative"},"text":{"field":"small"}}},
{"data":{"name":"labels"},"transform":[{"filter":"datum.site==='Newport'"}],"mark":{"type":"text","align":"left","baseline":"middle","fontSize":18,"fontWeight":"bold","color":"#00a651"},
"encoding":{"x":{"datum":1516233600000,"type":"temporal"},"y":{"datum":129,"type":"quantitative"},"text":{"field":"large"}}}
]},
{"layer":[
{"data":{"name":"pda"},"transform":[{"filter":"datum.site==='Newport'"},{"fold":["pDA"],"as":["series","value"]}],
"mark":{"type":"line","strokeWidth":1.2},
"encoding":{"x":{"field":"date","type":"temporal","scale":{"type":"utc","domain":[1514764800000,1546300800000]},"axis":{"orient":"top","title":null,"labels":false,"values":[1514764800000,1516060800000,1517443200000,1518739200000,1519862400000,1521158400000,1522540800000,1523836800000,1525132800000,1526428800000,1527811200000,1529107200000,1530403200000,1531699200000,1533081600000,1534377600000,1535760000000,1537056000000,1538352000000,1539648000000,1541030400000,1542326400000,1543622400000,1544918400000],"tickSize":-4,"tickColor":"#999","domainColor":"#999"}},
"y":{"field":"value","type":"quantitative","scale":{"domain":[0,2.5],"nice":false},"axis":{"orient":"right","title":null,"values":[0,1,2],"labelFontSize":20,"labelColor":"#ff00ff","tickColor":"#ff00ff","domainColor":"#ff00ff","tickSize":-5,"labelPadding":9}},
"color":{"field":"series","type":"nominal"}}},
{"data":{"name":"pda"},"transform":[{"filter":"datum.site==='Newport'"},{"fold":["pDA"],"as":["series","value"]}],
"mark":{"type":"point","filled":true,"size":55,"opacity":1},
"encoding":{"x":{"field":"date","type":"temporal"},"y":{"field":"value","type":"quantitative"},"color":{"field":"series","type":"nominal"}}}
]}
]}
]
}
